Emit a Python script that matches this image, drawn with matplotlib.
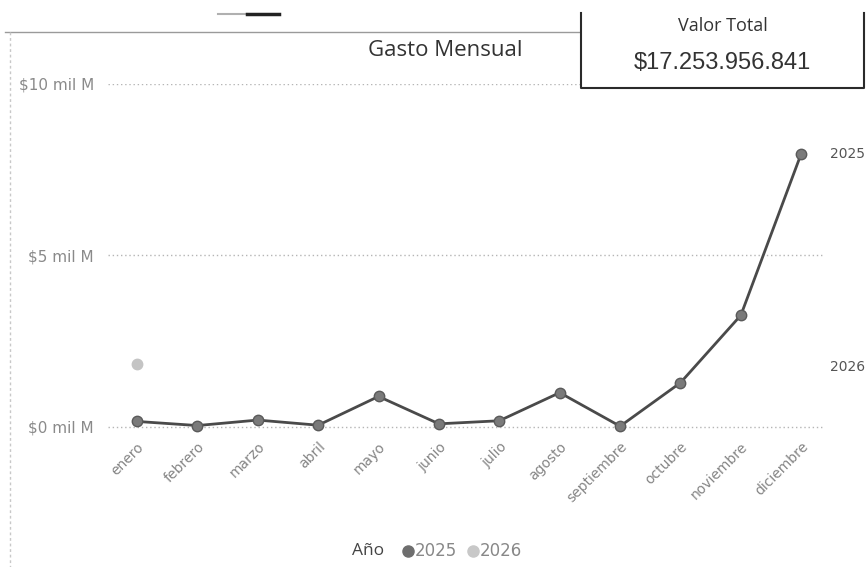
import matplotlib
matplotlib.use("Agg")
import matplotlib.pyplot as plt
from matplotlib.lines import Line2D
from matplotlib.patches import Rectangle

# ---- data (values in "mil M" = miles de millones) ----
meses = ["enero", "febrero", "marzo", "abril", "mayo", "junio", "julio",
         "agosto", "septiembre", "octubre", "noviembre", "diciembre"]
gasto_2025 = [0.15, 0.03, 0.19, 0.04, 0.88, 0.08, 0.17, 0.99, 0.01, 1.28, 3.25, 7.97]
meses_2026 = ["enero"]
gasto_2026 = [1.84]
y_ticks = [0, 5, 10]
y_labels = ["$0 mil M", "$5 mil M", "$10 mil M"]
titulo = "Gasto Mensual"
kpi_titulo = "Valor Total"
kpi_valor = "$17.253.956.841"
series_names = ["2025", "2026"]

W, H = 866, 567
fig = plt.figure(figsize=(W / 100, H / 100), dpi=100)
fig.patch.set_facecolor("white")

def fx(x):
    return x / W

def fy(y):
    return 1 - y / H

# plot area in pixels
left, right, top, bottom = 108, 823, 84, 430
ax = fig.add_axes([fx(left), fy(bottom), fx(right) - fx(left), fy(top) - fy(bottom)])
ax.set_facecolor("none")

xpos = list(range(len(meses)))
ax.plot(xpos, gasto_2025, color="#4a4a4a", lw=2.0, marker="o", ms=7.5,
        mfc="#7a7a7a", mec="#5a5a5a", mew=1.0, zorder=3, clip_on=False)
x26 = [meses.index(m) for m in meses_2026]
ax.plot(x26, gasto_2026, ls="none", marker="o", ms=7.5, mfc="#c4c4c4",
        mec="#c4c4c4", zorder=3, clip_on=False)

ax.set_xlim(-0.48, 11.36)
ax.set_ylim(-0.1, 10.0)

for t in y_ticks:
    ax.axhline(t, color="#b5b5b5", lw=1.0, ls=(0, (1, 2)), zorder=1)

ax.set_yticks(y_ticks)
ax.set_yticklabels(y_labels, fontsize=11, color="#8a8a8a", family="DejaVu Sans")
ax.set_xticks(xpos)
ax.set_xticklabels(meses, rotation=45, ha="right", rotation_mode="anchor",
                   fontsize=10, color="#858585", family="DejaVu Sans")
ax.tick_params(axis="both", length=0)
ax.tick_params(axis="y", pad=10)
ax.tick_params(axis="x", pad=7)
for s in ax.spines.values():
    s.set_visible(False)

# end labels
ax.text(11.47, gasto_2025[-1], series_names[0], fontsize=10, color="#555555",
        va="center", ha="left", clip_on=False)
ax.text(11.47, gasto_2026[-1] - 0.1, series_names[1], fontsize=10, color="#555555",
        va="center", ha="left", clip_on=False)

# title
fig.text(fx(445), fy(50), titulo, fontsize=16, color="#333333",
         ha="center", va="center", family="Open Sans")

# panel borders
fig.add_artist(Line2D([fx(5), fx(581)], [fy(32), fy(32)], color="#9a9a9a", lw=1.0))
fig.add_artist(Line2D([fx(10), fx(10)], [fy(32), fy(567)], color="#c8c8c8", lw=1.0,
                      ls=(0, (2, 2))))

# little dash top
fig.add_artist(Line2D([fx(218), fx(247)], [fy(14), fy(14)], color="#b0b0b0", lw=1.5))
fig.add_artist(Line2D([fx(247), fx(279)], [fy(14), fy(14)], color="#222222", lw=2.5))

# KPI card (white fill covers gridline)
fig.add_artist(Rectangle((fx(581), fy(88)), fx(864) - fx(581), fy(0) - fy(88),
                         facecolor="white", edgecolor="none", zorder=5))
fig.add_artist(Line2D([fx(581), fx(581), fx(864), fx(864)],
                      [fy(13), fy(88), fy(88), fy(13)], color="#2a2a2a", lw=1.5,
                      zorder=6))
fig.text(fx(723), fy(26), kpi_titulo, fontsize=13, color="#333333",
         ha="center", va="center", family="Open Sans", zorder=7)
fig.text(fx(722), fy(63), kpi_valor, fontsize=17, color="#333333",
         ha="center", va="center", family="Liberation Sans", zorder=7)

# legend
fig.text(fx(352), fy(551), "Año", fontsize=12.5, color="#444444", ha="left",
         va="center", family="Open Sans")
fig.add_artist(Line2D([fx(408)], [fy(551)], marker="o", ms=8, mfc="#6e6e6e",
                      mec="#6e6e6e", ls="none"))
fig.text(fx(415), fy(551), series_names[0], fontsize=12, color="#888888",
         ha="left", va="center")
fig.add_artist(Line2D([fx(473)], [fy(551)], marker="o", ms=8, mfc="#c8c8c8",
                      mec="#c8c8c8", ls="none"))
fig.text(fx(480), fy(551), series_names[1], fontsize=12, color="#888888",
         ha="left", va="center")

fig.savefig("out.png", dpi=100, facecolor="white")
